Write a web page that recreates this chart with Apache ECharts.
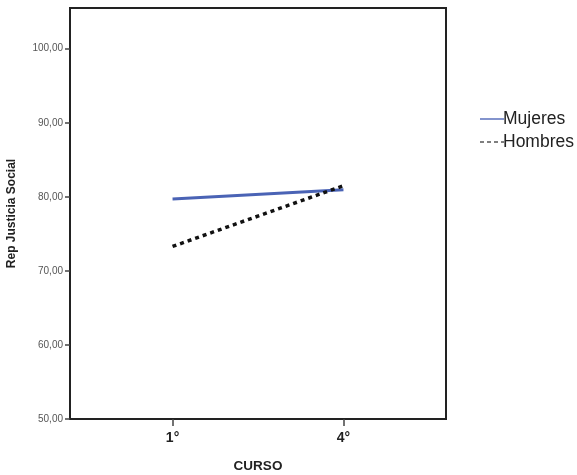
<!DOCTYPE html>
<html><head><meta charset="utf-8">
<script src="https://cdn.jsdelivr.net/npm/echarts@6/dist/echarts.min.js"></script>
<style>html,body{margin:0;padding:0;background:#fff}#c{width:577px;height:475px}</style>
</head><body><div id="c"></div>
<script>
const categories = ['1°', '4°'];
const mujeres = [79.7, 80.95];
const hombres = [73.3, 81.5];
const yTicks = [50, 60, 70, 80, 90, 100];

const chart = echarts.init(document.getElementById('c'));
const pos = categories.map((c, i) => i + 1);
chart.setOption({
  animation: false,
  grid: { left: 70, top: 8, right: 131, bottom: 56, outerBoundsMode: 'none', containLabel: false, show: true, borderColor: '#222', borderWidth: 2, backgroundColor: 'transparent' },
  legend: {
    orient: 'vertical', left: 475, top: 105, itemWidth: 24, itemHeight: 1.5, itemGap: 5,
    textStyle: { fontFamily: 'Liberation Sans, Arial', fontSize: 17.5, color: '#222', padding: [0,0,0,-6] },
    data: [
      { name: 'Mujeres', icon: 'path://M0,0h24v1.5h-24z', itemStyle: { color: '#5a70bd' } },
      { name: 'Hombres', icon: 'path://M0,0h4v1.5h-4zM7,0h4v1.5h-4zM14,0h4v1.5h-4zM21,0h3v1.5h-3z', itemStyle: { color: '#555' } }
    ]
  },
  xAxis: {
    type: 'value', min: 0.4, max: 2.6,
    name: 'CURSO', nameLocation: 'middle', nameGap: 40,
    nameTextStyle: { fontFamily: 'Liberation Sans, Arial', fontWeight: 'bold', fontSize: 13.5, color: '#222' },
    splitLine: { show: false },
    axisLine: { show: true, lineStyle: { color: '#222', width: 2 } },
    axisTick: { show: true, customValues: pos, length: 7, lineStyle: { color: '#444', width: 1.5 } },
    axisLabel: { customValues: pos, formatter: v => categories[Math.round(v) - 1] || '', fontFamily: 'Liberation Sans, Arial', fontWeight: 'bold', fontSize: 14, color: '#222', margin: 12 }
  },
  yAxis: {
    type: 'value', min: 50, max: 105.5,
    name: 'Rep Justicia Social', nameLocation: 'middle', nameGap: 52, nameRotate: 90,
    nameTextStyle: { fontFamily: 'Liberation Sans, Arial', fontWeight: 'bold', fontSize: 12, color: '#222' },
    splitLine: { show: false },
    axisLine: { show: true, lineStyle: { color: '#222', width: 2 } },
    axisTick: { show: true, customValues: yTicks, length: 5, lineStyle: { color: '#444', width: 1.5 } },
    axisLabel: { customValues: yTicks, formatter: v => v.toFixed(2).replace('.', ','), fontFamily: 'Liberation Sans, Arial', fontSize: 10, color: '#555', margin: 7 }
  },
  series: [
    { name: 'Mujeres', type: 'line', symbol: 'none', data: pos.map((p, i) => [p, mujeres[i]]),
      lineStyle: { color: '#4a63b5', width: 3 }, itemStyle: { color: '#4a63b5' } },
    { name: 'Hombres', type: 'line', symbol: 'none', data: pos.map((p, i) => [p, hombres[i]]),
      lineStyle: { color: '#111', width: 3.5, type: [4, 4] }, itemStyle: { color: '#555' } }
  ]
});
</script></body></html>
